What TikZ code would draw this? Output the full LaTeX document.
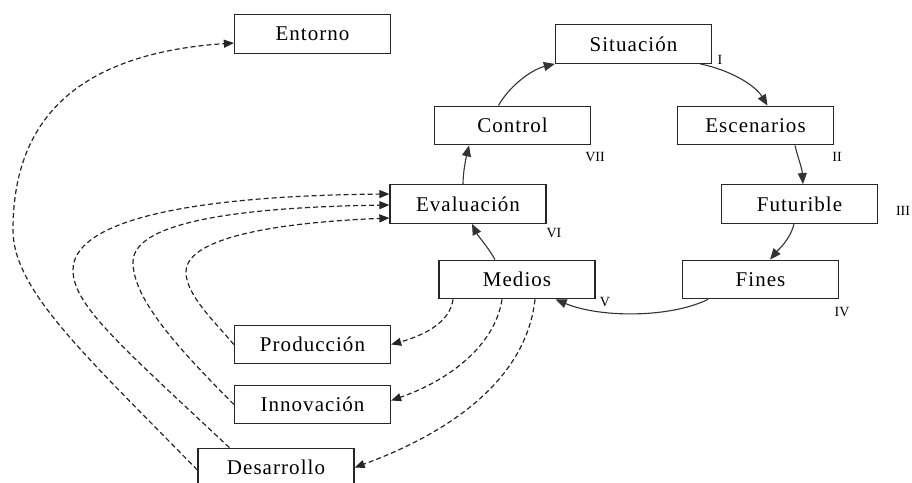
\documentclass[tikz,border=0pt]{standalone}
\usepackage{fontspec}
\setmainfont{Liberation Serif}
\newfontfamily\boxfont[LetterSpace=5]{Liberation Serif}
\usetikzlibrary{arrows.meta,calc}
\begin{document}
\begin{tikzpicture}[x=1pt,y=-1pt,
  box/.style={draw=black!85,line width=1.3pt,minimum width=156pt,minimum height=38.5pt,inner sep=0pt,
    font=\boxfont\fontsize{21}{24}\selectfont},
  num/.style={font=\fontsize{14}{15}\selectfont,inner sep=0pt},
  cyc/.style={draw=black!80,line width=1.1pt,-{Triangle[length=11pt,width=9pt]}},
  dsh/.style={draw=black!85,line width=1.2pt,dash pattern=on 5pt off 3pt,-{Triangle[length=10pt,width=8pt]}}]
\clip (0,0) rectangle (912,482);
% boxes
\node[box] (ent) at (312.5,34) {Entorno};
\node[box] (sit) at (633.5,44) {Situación};
\node[box] (ctl) at (512.5,125.5) {Control};
\node[box] (esc) at (755.5,125.5) {Escenarios};
\node[box] (eva) at (468,204) {Evaluación};
\node[box] (fut) at (799.5,204) {Futurible};
\node[box] (med) at (517,279.5) {Medios};
\node[box] (fin) at (760.5,279.5) {Fines};
\node[box] (pro) at (312.5,344.5) {Producción};
\node[box] (inn) at (312.5,404.5) {Innovación};
\node[box] (des) at (276,467.5) {Desarrollo};
% roman numerals
\node[num] (n1) at (720,60) {I};
\node[num] (n2) at (837,157) {II};
\node[num] (n3) at (903,211) {III};
\node[num] (n4) at (842,312) {IV};
\node[num] (n5) at (605,302) {V};
\node[num] (n6) at (554,233) {VI};
\node[num] (n7) at (595,157) {VII};
% cycle
\draw[cyc] ([xshift=-14pt]ctl.north) .. controls (508,88) and (530,70) .. (sit.south west);
\draw[cyc] ([xshift=-12pt]sit.south east) .. controls (730,70) and (755,85) .. ([xshift=12pt]esc.north);
\draw[cyc] ([xshift=39.5pt]esc.south) .. controls (798,158) and (802,168) .. ([xshift=3.5pt]fut.north);
\draw[cyc] ([xshift=-5.5pt]fut.south) .. controls (790,240) and (778,250) .. ([xshift=9.5pt]fin.north);
\draw[cyc] ([xshift=-52.5pt]fin.south) .. controls (670,318) and (600,318) .. ([xshift=-40pt]med.south east);
\draw[cyc] ([xshift=-22pt]med.north) .. controls (488,247) and (478,236) .. ([xshift=4pt]eva.south);
\draw[cyc] ([xshift=-5pt]eva.north) .. controls (463,172) and (466,158) .. ([xshift=-43.5pt]ctl.south);
% dashed from Medios
\draw[dsh] ([xshift=-64pt]med.south) .. controls (450,322) and (425,335) .. (pro.east);
\draw[dsh] ([xshift=-15pt]med.south) .. controls (495,345) and (450,380) .. ([yshift=4pt]inn.east);
\draw[dsh] ([xshift=18pt]med.south) .. controls (525,390) and (430,440) .. (des.east);
% dashed to Evaluacion / Entorno
\draw[dsh] (pro.west) .. controls (215,322) and (186,295) .. (186,272)
  .. controls (186,235) and (290,222) .. ([yshift=-14pt]eva.west);
\draw[dsh] (inn.west) .. controls (180,350) and (133,300) .. (133,262)
  .. controls (133,220) and (250,207) .. ([yshift=-1pt]eva.west);
\draw[dsh] ([xshift=32pt]des.north west) .. controls (120,345) and (73,305) .. (73,270)
  .. controls (73,225) and (170,196) .. ([yshift=10pt]eva.west);
\draw[dsh] ([yshift=-2.5pt]des.west) .. controls (85,355) and (13,290) .. (13,230)
  .. controls (13,140) and (55,55) .. ([yshift=-9pt]ent.west);
\end{tikzpicture}
\end{document}
